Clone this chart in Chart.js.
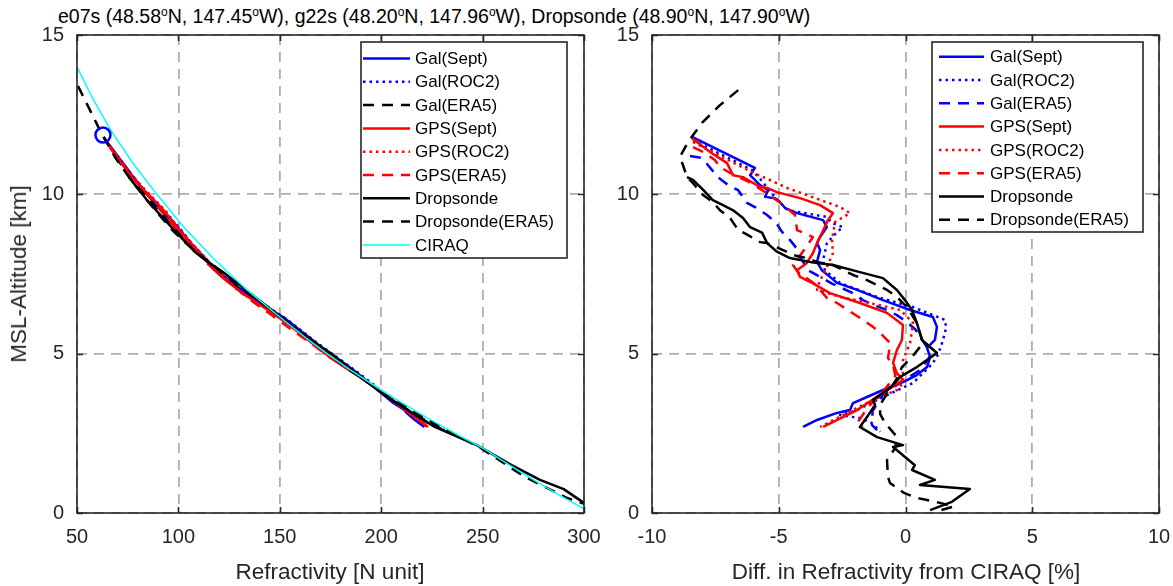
<!DOCTYPE html>
<html><head><meta charset="utf-8">
<script src="https://cdn.jsdelivr.net/npm/chart.js@4.4.0/dist/chart.umd.min.js"></script>
<style>
html,body{margin:0;padding:0;background:#fff;}
body{width:1173px;height:586px;position:relative;overflow:hidden;font-family:"Liberation Sans",Arial,sans-serif;color:#262626;}
#title{position:absolute;left:58px;top:5px;font-size:19.5px;color:#000;white-space:nowrap;line-height:22px;}
#title sup{font-size:12px;line-height:0;}
canvas{position:absolute;top:0;}
#c1{left:0;}
#c2{left:600px;}
.lab{position:absolute;font-size:22.5px;white-space:nowrap;transform:translate(-50%,-50%);color:#262626;}
</style></head>
<body>
<div id="title">e07s (48.58<sup>o</sup>N, 147.45<sup>o</sup>W), g22s (48.20<sup>o</sup>N, 147.96<sup>o</sup>W), Dropsonde (48.90<sup>o</sup>N, 147.90<sup>o</sup>W)</div>
<canvas id="c1" width="600" height="586" style="width:600px;height:586px"></canvas>
<canvas id="c2" width="573" height="586" style="width:573px;height:586px"></canvas>
<div class="lab" style="left:330px;top:572px">Refractivity [N unit]</div>
<div class="lab" style="left:906px;top:572px">Diff. in Refractivity from CIRAQ [%]</div>
<div class="lab" style="left:19px;top:274px;transform:translate(-50%,-50%) rotate(-90deg)">MSL-Altitude [km]</div>
<script>
// ---------- tick definitions ----------
const refrTicks = [50, 100, 150, 200, 250, 300];
const diffTicks = [-10, -5, 0, 5, 10];
const altTicks = [0, 5, 10, 15];

// ---------- left panel: refractivity [N] vs altitude [km] ----------
const ciraqN = [[300,0.13],[289.6,0.5],[276.1,1.0],[263.3,1.5],[250,2.04],[236.3,2.5],[222.3,3.0],[209.0,3.5],[200,3.86],[184.5,4.5],[173.3,5.0],[162.8,5.5],[150,6.15],[133.8,7.0],[117.0,8.0],[102.3,9.0],[89.4,10.0],[77.3,11.0],[66.8,12.0],[57.8,13.0],[50,14.0]];
const galSeptN = [[63.0,11.80],[74.5,10.83],[77.0,10.60],[82.9,10.13],[87.7,9.76],[92.7,9.41],[96.5,9.19],[99.5,8.97],[106.0,8.47],[109.3,8.25],[114.8,7.88],[122.8,7.41],[126.4,7.22],[131.2,7.00],[138.5,6.68],[145.9,6.37],[151.6,6.15],[157.9,5.84],[166.1,5.43],[170.8,5.18],[177.2,4.90],[184.3,4.58],[189.3,4.33],[193.6,4.11],[198.2,3.86],[202.4,3.64],[206.0,3.45],[211.4,3.23],[212.6,3.14],[216.6,2.92],[221.3,2.70]];
const galRoc2N = [[63.9,11.70],[75.2,10.76],[82.3,10.20],[91.2,9.50],[95.3,9.29],[100.2,8.97],[106.4,8.47],[114.2,7.94],[119.2,7.62],[126.6,7.22],[136.3,6.78],[144.3,6.46],[153.9,6.06],[166.4,5.43],[186.8,4.49],[195.2,4.08],[203.7,3.64],[212.0,3.23],[214.7,3.07],[224.2,2.82],[232.6,2.55]];
const galEra5N = [[68.7,11.20],[73.9,10.76],[79.7,10.29],[86.9,9.73],[92.3,9.35],[99.6,8.82],[108.3,8.25],[118.8,7.60],[126.5,7.20],[132.8,6.90],[140.7,6.53],[148.4,6.21],[158.3,5.75],[172.4,5.11],[185.6,4.50],[193.7,4.10],[202.2,3.70],[214.0,3.20],[225.9,2.76],[230.8,2.60]];
const gpsSeptN = [[63.4,11.76],[68.0,11.33],[72.0,10.98],[76.4,10.60],[81.5,10.23],[84.0,10.07],[87.0,9.88],[90.4,9.66],[94.0,9.41],[96.6,9.19],[101.8,8.78],[106.0,8.47],[110.3,8.16],[114.8,7.84],[117.8,7.62],[121.3,7.41],[125.1,7.22],[131.6,6.90],[138.9,6.59],[146.3,6.28],[154.6,5.90],[164.0,5.43],[170.3,5.11],[178.8,4.71],[186.5,4.39],[192.2,4.17],[200.4,3.77],[212.0,3.23],[223.1,2.70]];
const gpsRoc2N = [[64.5,11.64],[76.2,10.67],[82.7,10.20],[91.9,9.60],[94.7,9.41],[97.7,9.13],[105.2,8.57],[112.9,8.03],[117.7,7.72],[129.1,7.00],[134.2,6.78],[145.3,6.37],[154.1,5.96],[166.6,5.33],[177.5,4.80],[194.4,4.08],[205.1,3.55],[213.5,3.14],[222.8,2.70]];
const gpsEra5N = [[66.1,11.48],[70.7,11.08],[75.5,10.67],[84.6,10.00],[90.3,9.57],[99.5,8.88],[102.9,8.66],[115.1,7.78],[118.9,7.56],[134.1,6.75],[149.2,6.06],[158.1,5.65],[165.3,5.33],[175.2,4.86],[188.1,4.33],[199.7,3.80],[211.0,3.30],[222.9,2.82]];
const dropN = [[75.6,10.54],[84.5,9.82],[92.4,9.26],[99.1,8.80],[108.0,8.20],[114.4,7.88],[122.0,7.56],[133.3,7.00],[146.0,6.37],[165.3,5.43],[175.0,5.02],[189.6,4.27],[205.1,3.55],[218.6,3.01],[226.4,2.70],[247.1,2.13],[264.3,1.50],[278.3,1.04],[290.0,0.75],[299.2,0.35],[304.0,0.09]];
const dropEra5N = [[50.5,13.40],[60.6,12.10],[68.7,11.17],[75.6,10.54],[82.4,9.98],[88.6,9.50],[97.0,8.88],[103.1,8.50],[110.3,8.10],[117.1,7.78],[126.4,7.31],[137.3,6.78],[154.3,5.96],[167.4,5.33],[182.4,4.58],[197.8,3.90],[217.8,3.10],[249.0,2.04],[270.9,1.13],[291.7,0.47],[299.1,0.31],[303.7,0.20]];
const topMarkerN = [[62.8,11.86]];

// ---------- right panel: difference from CIRAQ [%] vs altitude [km] ----------
const galSeptD = [[-8.42,11.80],[-5.94,10.83],[-6.13,10.60],[-5.74,10.29],[-5.42,10.13],[-5.54,9.92],[-5.15,9.88],[-4.95,9.76],[-4.75,9.57],[-4.28,9.41],[-3.25,9.19],[-3.10,8.97],[-3.37,8.66],[-3.49,8.47],[-3.37,8.25],[-3.49,7.88],[-3.30,7.62],[-2.98,7.41],[-2.70,7.22],[-1.91,7.00],[-0.89,6.68],[0.18,6.37],[1.08,6.15],[1.24,5.84],[1.16,5.43],[0.85,5.18],[0.97,4.90],[0.85,4.58],[0.45,4.33],[-0.10,4.11],[-0.89,3.86],[-1.52,3.64],[-2.07,3.45],[-2.19,3.23],[-2.70,3.14],[-3.49,2.92],[-4.04,2.70]];
const galRoc2D = [[-8.38,11.70],[-6.05,10.76],[-5.70,10.45],[-5.30,10.05],[-4.90,9.70],[-4.63,9.50],[-3.10,9.29],[-2.90,9.10],[-2.47,8.97],[-2.70,8.82],[-3.10,8.47],[-3.25,7.94],[-3.18,7.62],[-2.58,7.22],[-1.12,6.78],[0.30,6.46],[1.56,6.06],[1.60,5.80],[1.48,5.43],[1.30,5.00],[1.08,4.70],[0.30,4.08],[-0.89,3.64],[-1.91,3.23],[-2.58,3.07],[-1.80,2.98],[-1.32,2.82],[-1.00,2.55]];
const galEra5D = [[-8.50,11.20],[-8.03,11.14],[-7.63,10.76],[-7.40,10.54],[-7.00,10.29],[-6.60,10.13],[-6.25,9.73],[-5.94,9.60],[-5.46,9.35],[-5.10,9.10],[-4.87,8.82],[-4.56,8.57],[-4.24,8.25],[-4.16,8.03],[-3.80,7.60],[-2.90,7.20],[-2.07,6.90],[-1.68,6.68],[-1.28,6.53],[-0.73,6.37],[-0.34,6.21],[0.06,5.99],[0.40,5.75],[0.85,5.20],[1.00,4.96],[0.60,4.50],[-0.20,4.10],[-0.90,3.70],[-1.30,3.20],[-1.32,2.76],[-1.12,2.60]];
const gpsSeptD = [[-8.42,11.76],[-7.71,11.33],[-7.04,10.98],[-6.80,10.60],[-6.41,10.54],[-5.74,10.23],[-5.46,10.20],[-5.07,10.07],[-4.16,9.88],[-3.37,9.66],[-2.86,9.41],[-3.06,9.19],[-3.30,8.78],[-3.49,8.47],[-3.65,8.16],[-3.90,7.84],[-4.28,7.62],[-4.16,7.41],[-3.69,7.22],[-2.98,6.90],[-1.80,6.59],[-0.73,6.28],[-0.10,5.90],[-0.14,5.43],[-0.34,5.11],[-0.49,4.71],[-0.34,4.39],[-0.10,4.17],[-0.89,3.77],[-1.91,3.23],[-3.25,2.70]];
const gpsRoc2D = [[-8.38,11.64],[-6.00,10.67],[-5.35,10.45],[-4.67,10.20],[-2.58,9.60],[-2.19,9.41],[-2.78,9.13],[-2.90,8.57],[-2.86,8.16],[-3.10,7.72],[-3.40,7.25],[-3.49,7.00],[-2.58,6.78],[-1.91,6.68],[-0.20,6.37],[0.30,5.96],[0.18,5.33],[-0.10,4.80],[-0.10,4.08],[-0.34,3.86],[-1.28,3.55],[-2.31,3.14],[-3.37,2.70]];
const gpsEra5D = [[-8.38,11.48],[-7.99,11.33],[-7.52,11.08],[-7.32,10.86],[-6.92,10.67],[-6.20,10.40],[-5.40,10.00],[-4.67,9.57],[-4.36,9.35],[-4.28,8.88],[-3.65,8.66],[-4.00,8.25],[-4.44,7.78],[-4.24,7.56],[-3.60,7.20],[-3.10,6.75],[-2.70,6.59],[-1.68,6.06],[-1.28,5.84],[-1.00,5.65],[-0.60,5.33],[-0.69,4.86],[-0.49,4.64],[-0.40,4.30],[-0.90,3.80],[-1.50,3.30],[-1.91,2.82],[-1.68,2.70]];
const dropD = [[-8.62,10.54],[-8.38,10.45],[-7.99,10.15],[-7.60,9.82],[-7.20,9.66],[-6.80,9.50],[-6.41,9.26],[-6.13,8.97],[-5.66,8.80],[-5.46,8.47],[-5.07,8.20],[-4.56,8.00],[-3.77,7.88],[-2.86,7.78],[-1.80,7.56],[-0.89,7.37],[-0.34,7.00],[-0.02,6.68],[0.26,6.37],[0.45,5.96],[0.65,5.43],[1.24,5.02],[0.45,4.58],[-0.21,4.27],[-0.61,3.92],[-1.28,3.55],[-1.20,3.39],[-1.52,3.01],[-1.80,2.70],[-1.12,2.38],[-0.10,2.13],[-0.49,2.07],[0.37,1.50],[0.26,1.35],[1.16,1.04],[0.57,0.88],[2.54,0.75],[1.83,0.35],[0.97,0.09]];
const dropEra5D = [[-6.60,13.27],[-7.32,12.80],[-8.03,12.24],[-8.58,11.64],[-8.90,11.17],[-8.78,10.92],[-8.62,10.54],[-8.38,10.35],[-7.99,9.98],[-7.60,9.76],[-7.32,9.50],[-6.92,9.26],[-6.60,8.88],[-6.21,8.72],[-5.74,8.50],[-5.46,8.47],[-4.83,8.25],[-4.44,8.10],[-3.90,8.00],[-3.50,7.88],[-2.86,7.78],[-2.07,7.47],[-1.52,7.31],[-0.73,7.00],[-0.34,6.78],[0.06,6.46],[0.45,5.96],[0.69,5.33],[0.26,4.90],[-0.14,4.58],[-0.30,4.27],[-0.60,3.90],[-1.00,3.40],[-1.00,3.10],[-0.80,2.82],[-0.33,2.38],[-0.41,2.04],[-0.73,1.66],[-0.69,1.13],[-0.61,0.94],[-0.06,0.63],[0.45,0.47],[0.85,0.41],[1.40,0.31],[1.90,0.20],[1.20,0.05]];

// ---------- styles ----------
const BLUE = '#0000ff', RED = '#ff0000', BLACK = '#000000', CYAN = '#00ffff';
const SOLID = [], DOT = [2.5, 4], DASH = [11, 8];
const FONT = '"Liberation Sans", Arial, sans-serif';

function toXY(arr) { return arr.map(p => ({x: p[0], y: p[1]})); }
function line(label, arr, color, dash, width) {
  return {label, data: toXY(arr), showLine: true, borderColor: color, backgroundColor: color,
    borderDash: dash, borderWidth: width || 2.5, pointRadius: 0, pointHoverRadius: 0, tension: 0,
    borderCapStyle: 'butt', borderJoinStyle: 'round', fill: false};
}
function ordered(ds) { ds.forEach((d, i) => d.order = ds.length - i); return ds; }

const boxPlugin = {
  id: 'mlBox',
  afterDatasetsDraw(chart) {
    const {ctx, chartArea: a, scales} = chart;
    ctx.save();
    ctx.strokeStyle = '#262626'; ctx.lineWidth = 1.6; ctx.setLineDash([]);
    ctx.strokeRect(a.left, a.top, a.right - a.left, a.bottom - a.top);
    const tl = 6;
    ctx.beginPath();
    scales.x.ticks.forEach(t => { const x = Math.round(scales.x.getPixelForValue(t.value)) + 0.5;
      ctx.moveTo(x, a.bottom); ctx.lineTo(x, a.bottom - tl); ctx.moveTo(x, a.top); ctx.lineTo(x, a.top + tl); });
    scales.y.ticks.forEach(t => { const y = Math.round(scales.y.getPixelForValue(t.value)) + 0.5;
      ctx.moveTo(a.left, y); ctx.lineTo(a.left + tl, y); ctx.moveTo(a.right, y); ctx.lineTo(a.right - tl, y); });
    ctx.stroke();
    ctx.restore();
  },
  afterDraw(chart, args, opts) {
    const lg = opts.legend; if (!lg) return;
    const ctx = chart.ctx;
    ctx.save();
    ctx.fillStyle = '#fff'; ctx.fillRect(lg.x, lg.y, lg.w, lg.h);
    ctx.strokeStyle = '#262626'; ctx.lineWidth = 1.6; ctx.setLineDash([]);
    ctx.strokeRect(lg.x, lg.y, lg.w, lg.h);
    ctx.font = '17px ' + FONT; ctx.textBaseline = 'middle'; ctx.fillStyle = '#000';
    lg.items.forEach((it, i) => {
      const y = lg.y + lg.first + i * lg.step;
      ctx.beginPath(); ctx.strokeStyle = it.color; ctx.lineWidth = it.width; ctx.setLineDash(it.dash);
      ctx.lineCap = 'butt';
      ctx.moveTo(lg.x + lg.lx0, y); ctx.lineTo(lg.x + lg.lx1, y); ctx.stroke();
      ctx.setLineDash([]);
      ctx.fillStyle = '#000';
      ctx.fillText(it.label, lg.x + lg.tx, y + 1);
    });
    ctx.restore();
  }
};

function axes(xmin, xmax, xticks, yWidth) {
  const gridCommon = {color: 'rgba(120,120,120,0.6)', lineWidth: 1.8, drawTicks: false};
  return {
    x: {type: 'linear', min: xmin, max: xmax,
      afterBuildTicks: s => { s.ticks = xticks.map(v => ({value: v})); },
      afterFit: s => { s.height = 73; s.paddingLeft = 0; s.paddingRight = 0; },
      ticks: {color: '#262626', font: {family: FONT, size: 20}, padding: 12, maxRotation: 0, autoSkip: false},
      grid: gridCommon, border: {display: false, dash: [10, 7]}},
    y: {type: 'linear', min: 0, max: 15,
      afterBuildTicks: s => { s.ticks = altTicks.map(v => ({value: v})); },
      afterFit: s => { s.width = yWidth; s.paddingTop = 0; s.paddingBottom = 0; },
      ticks: {color: '#262626', font: {family: FONT, size: 20}, padding: 13, autoSkip: false},
      grid: gridCommon, border: {display: false, dash: [10, 7]}}
  };
}

function legendItems(galEraColor, withCiraq) {
  const it = [
    {label: 'Gal(Sept)', color: BLUE, dash: SOLID, width: 2.5},
    {label: 'Gal(ROC2)', color: BLUE, dash: DOT, width: 2.5},
    {label: 'Gal(ERA5)', color: galEraColor, dash: DASH, width: 2.5},
    {label: 'GPS(Sept)', color: RED, dash: SOLID, width: 2.5},
    {label: 'GPS(ROC2)', color: RED, dash: DOT, width: 2.5},
    {label: 'GPS(ERA5)', color: RED, dash: DASH, width: 2.5},
    {label: 'Dropsonde', color: BLACK, dash: SOLID, width: 2.5},
    {label: 'Dropsonde(ERA5)', color: BLACK, dash: DASH, width: 2.5}
  ];
  if (withCiraq) it.push({label: 'CIRAQ', color: CYAN, dash: SOLID, width: 1.5});
  return it;
}

const common = {responsive: false, animation: false, events: []};

// ---------- left chart ----------
new Chart(document.getElementById('c1'), {
  type: 'scatter',
  data: {datasets: ordered([
    line('Gal(Sept)', galSeptN, BLUE, SOLID),
    line('Gal(ROC2)', galRoc2N, BLUE, DOT),
    line('Gal(ERA5)', galEra5N, BLACK, DASH),
    line('GPS(Sept)', gpsSeptN, RED, SOLID),
    line('GPS(ROC2)', gpsRoc2N, RED, DOT),
    line('GPS(ERA5)', gpsEra5N, RED, DASH),
    line('Dropsonde', dropN, BLACK, SOLID),
    line('Dropsonde(ERA5)', dropEra5N, BLACK, DASH),
    line('CIRAQ', ciraqN, CYAN, SOLID, 1.5),
    {label: 'top', data: toXY(topMarkerN), showLine: false, pointRadius: 7.5, pointBorderWidth: 2.5,
      pointBorderColor: BLUE, pointBackgroundColor: 'rgba(0,0,0,0)', borderColor: BLUE}
  ])},
  options: Object.assign({}, common, {
    layout: {padding: {top: 35, left: 0, right: 16, bottom: 0}},
    scales: axes(50, 300, refrTicks, 77),
    plugins: {legend: {display: false}, tooltip: {enabled: false},
      mlBox: {legend: {x: 361, y: 42, w: 206, h: 216, first: 16.5, step: 23.3, lx0: 2, lx1: 49, tx: 54,
        items: legendItems(BLACK, true)}}}
  }),
  plugins: [boxPlugin]
});

// ---------- right chart ----------
new Chart(document.getElementById('c2'), {
  type: 'scatter',
  data: {datasets: ordered([
    line('Gal(Sept)', galSeptD, BLUE, SOLID),
    line('Gal(ROC2)', galRoc2D, BLUE, DOT),
    line('Gal(ERA5)', galEra5D, BLUE, DASH),
    line('GPS(Sept)', gpsSeptD, RED, SOLID),
    line('GPS(ROC2)', gpsRoc2D, RED, DOT),
    line('GPS(ERA5)', gpsEra5D, RED, DASH),
    line('Dropsonde', dropD, BLACK, SOLID),
    line('Dropsonde(ERA5)', dropEra5D, BLACK, DASH)
  ])},
  options: Object.assign({}, common, {
    layout: {padding: {top: 35, left: 0, right: 14, bottom: 0}},
    scales: axes(-10, 10, diffTicks, 52),
    plugins: {legend: {display: false}, tooltip: {enabled: false},
      mlBox: {legend: {x: 332, y: 42, w: 211, h: 190, first: 14.7, step: 23.3, lx0: 7, lx1: 52, tx: 58,
        items: legendItems(BLUE, false)}}}
  }),
  plugins: [boxPlugin]
});
</script>
</body></html>
